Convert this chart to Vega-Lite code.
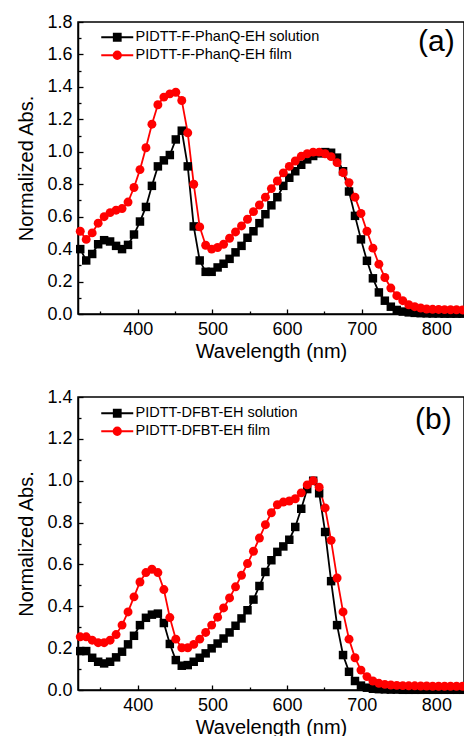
{
  "$schema": "https://vega.github.io/schema/vega-lite/v6.json",
  "padding": {"left": 16, "top": 12, "right": 0, "bottom": 0},
  "config": {
    "font": "Liberation Sans",
    "view": {"stroke": "#000000", "strokeWidth": 1.5},
    "axis": {"grid": false, "domainColor": "#000000", "domainWidth": 1.5, "tickColor": "#000000", "tickWidth": 1.3, "labelColor": "#000000", "titleColor": "#000000", "labelFont": "Liberation Sans", "titleFont": "Liberation Sans", "labelFontSize": 18, "titleFontSize": 20, "titleFontWeight": "normal"},
    "legend": {"labelFont": "Liberation Sans", "labelFontSize": 14.5, "labelColor": "#000000", "labelLimit": 0},
    "concat": {"spacing": 25}
  },
  "datasets": {
    "a": [
      {"w":323,"solution":0.40,"film":0.51},{"w":331,"solution":0.33,"film":0.46},{"w":339,"solution":0.37,"film":0.50},{"w":347,"solution":0.43,"film":0.56},{"w":355,"solution":0.455,"film":0.60},
      {"w":363,"solution":0.447,"film":0.625},{"w":371,"solution":0.42,"film":0.64},{"w":379,"solution":0.40,"film":0.65},{"w":387,"solution":0.426,"film":0.69},{"w":395,"solution":0.49,"film":0.78},
      {"w":403,"solution":0.57,"film":0.89},{"w":411,"solution":0.66,"film":1.025},{"w":419,"solution":0.79,"film":1.17},{"w":427,"solution":0.91,"film":1.29},{"w":435,"solution":0.947,"film":1.337},
      {"w":443,"solution":0.98,"film":1.357},{"w":451,"solution":1.076,"film":1.367},{"w":459,"solution":1.13,"film":1.316},{"w":467,"solution":0.91,"film":1.117},{"w":475,"solution":0.54,"film":0.80},
      {"w":483,"solution":0.33,"film":0.537},{"w":491,"solution":0.26,"film":0.424},{"w":499,"solution":0.26,"film":0.40},{"w":507,"solution":0.287,"film":0.41},{"w":515,"solution":0.31,"film":0.43},
      {"w":523,"solution":0.34,"film":0.467},{"w":531,"solution":0.38,"film":0.506},{"w":539,"solution":0.42,"film":0.543},{"w":547,"solution":0.47,"film":0.584},{"w":555,"solution":0.51,"film":0.631},
      {"w":563,"solution":0.56,"film":0.672},{"w":571,"solution":0.615,"film":0.72},{"w":579,"solution":0.67,"film":0.773},{"w":587,"solution":0.72,"film":0.82},{"w":595,"solution":0.79,"film":0.87},
      {"w":603,"solution":0.84,"film":0.91},{"w":611,"solution":0.88,"film":0.943},{"w":619,"solution":0.92,"film":0.972},{"w":627,"solution":0.953,"film":0.988},{"w":635,"solution":0.974,"film":0.998},
      {"w":643,"solution":0.99,"film":0.998},{"w":651,"solution":0.998,"film":0.988},{"w":659,"solution":0.994,"film":0.97},{"w":667,"solution":0.964,"film":0.933},{"w":675,"solution":0.88,"film":0.871},
      {"w":683,"solution":0.755,"film":0.81},{"w":691,"solution":0.605,"film":0.72},{"w":699,"solution":0.46,"film":0.62},{"w":707,"solution":0.328,"film":0.51},{"w":715,"solution":0.22,"film":0.406},
      {"w":723,"solution":0.133,"film":0.307},{"w":731,"solution":0.082,"film":0.225},{"w":739,"solution":0.045,"film":0.16},{"w":747,"solution":0.025,"film":0.113},{"w":755,"solution":0.015,"film":0.082},
      {"w":763,"solution":0.01,"film":0.057},{"w":771,"solution":0.007,"film":0.045},{"w":779,"solution":0.005,"film":0.037},{"w":787,"solution":0.004,"film":0.031},{"w":795,"solution":0.003,"film":0.029},
      {"w":803,"solution":0.003,"film":0.028},{"w":811,"solution":0.002,"film":0.027},{"w":819,"solution":0.002,"film":0.026},{"w":827,"solution":0.002,"film":0.026},{"w":835,"solution":0.002,"film":0.025}
    ],
    "b": [
      {"w":323,"solution":0.186,"film":0.254},{"w":331,"solution":0.186,"film":0.254},{"w":339,"solution":0.154,"film":0.238},{"w":347,"solution":0.135,"film":0.226},{"w":355,"solution":0.127,"film":0.226},
      {"w":363,"solution":0.135,"film":0.238},{"w":371,"solution":0.156,"film":0.265},{"w":379,"solution":0.183,"film":0.31},{"w":387,"solution":0.218,"film":0.373},{"w":395,"solution":0.259,"film":0.445},
      {"w":403,"solution":0.31,"film":0.516},{"w":411,"solution":0.345,"film":0.561},{"w":419,"solution":0.36,"film":0.577},{"w":427,"solution":0.365,"film":0.561},{"w":435,"solution":0.32,"film":0.48},
      {"w":443,"solution":0.22,"film":0.346},{"w":451,"solution":0.143,"film":0.243},{"w":459,"solution":0.116,"film":0.202},{"w":467,"solution":0.119,"film":0.202},{"w":475,"solution":0.135,"film":0.218},
      {"w":483,"solution":0.154,"film":0.243},{"w":491,"solution":0.175,"film":0.275},{"w":499,"solution":0.199,"film":0.31},{"w":507,"solution":0.222,"film":0.348},{"w":515,"solution":0.246,"film":0.392},
      {"w":523,"solution":0.275,"film":0.44},{"w":531,"solution":0.307,"film":0.493},{"w":539,"solution":0.342,"film":0.548},{"w":547,"solution":0.381,"film":0.604},{"w":555,"solution":0.432,"film":0.663},
      {"w":563,"solution":0.497,"film":0.726},{"w":571,"solution":0.564,"film":0.79},{"w":579,"solution":0.62,"film":0.847},{"w":587,"solution":0.66,"film":0.885},{"w":595,"solution":0.686,"film":0.898},
      {"w":603,"solution":0.718,"film":0.903},{"w":611,"solution":0.779,"film":0.914},{"w":619,"solution":0.866,"film":0.942},{"w":627,"solution":0.96,"film":0.98},{"w":635,"solution":1.0,"film":1.0},
      {"w":643,"solution":0.94,"film":0.969},{"w":651,"solution":0.755,"film":0.87},{"w":659,"solution":0.52,"film":0.715},{"w":667,"solution":0.31,"film":0.535},{"w":675,"solution":0.167,"film":0.373},
      {"w":683,"solution":0.087,"film":0.243},{"w":691,"solution":0.043,"film":0.154},{"w":699,"solution":0.021,"film":0.095},{"w":707,"solution":0.011,"film":0.064},{"w":715,"solution":0.006,"film":0.043},
      {"w":723,"solution":0.004,"film":0.032},{"w":731,"solution":0.003,"film":0.027},{"w":739,"solution":0.002,"film":0.024},{"w":747,"solution":0.002,"film":0.022},{"w":755,"solution":0.001,"film":0.021},
      {"w":763,"solution":0.001,"film":0.02},{"w":771,"solution":0.001,"film":0.02},{"w":779,"solution":0.001,"film":0.019},{"w":787,"solution":0.001,"film":0.019},{"w":795,"solution":0.001,"film":0.018},
      {"w":803,"solution":0.001,"film":0.018},{"w":811,"solution":0.001,"film":0.018},{"w":819,"solution":0.001,"film":0.018},{"w":827,"solution":0.001,"film":0.018},{"w":835,"solution":0.001,"film":0.018}
    ]
  },
  "resolve": {"scale": {"color": "independent"}, "legend": {"color": "independent"}},
  "vconcat": [
    {
      "width": 386, "height": 292,
      "data": {"name": "a"},
      "transform": [{"fold": ["solution", "film"], "as": ["series", "abs"]}],
      "layer": [
        {
          "mark": {"type": "line", "strokeWidth": 1.8},
          "encoding": {
            "x": {"field": "w", "type": "quantitative", "scale": {"domain": [320, 837], "nice": false, "zero": false},
                  "axis": {"orient": "bottom", "values": [400, 500, 600, 700, 800], "tickSize": -5, "labelPadding": 11, "title": "Wavelength (nm)", "titlePadding": 3}},
            "y": {"field": "abs", "type": "quantitative", "scale": {"domain": [0, 1.8], "nice": false},
                  "axis": {"orient": "left", "values": [0, 0.2, 0.4, 0.6, 0.8, 1.0, 1.2, 1.4, 1.6, 1.8], "format": ".1f", "tickSize": -5, "labelPadding": 11, "title": "Normalized Abs.", "titlePadding": 10}},
            "color": {"field": "series", "type": "nominal", "scale": {"domain": ["solution", "film"], "range": ["#000000", "#ff0000"]},
                      "legend": {"title": null, "orient": "none", "legendX": 32, "legendY": 8, "labelExpr": "'PIDTT-F-PhanQ-EH ' + datum.label", "labelOffset": 11, "rowPadding": 2,
                                 "encode": {"symbols": {"update": {"shape": {"signal": "datum.value == 'film' ? 'M-3.2,0H3.2M0.75,0A0.75,0.75 0 1,1 -0.75,0A0.75,0.75 0 1,1 0.75,0Z' : 'M-3.2,0H3.2M-0.7,-0.7H0.7V0.7H-0.7Z'"}, "fill": {"signal": "datum.value == 'film' ? '#ff0000' : '#000000'"}, "stroke": {"signal": "datum.value == 'film' ? '#ff0000' : '#000000'"}, "size": {"value": 100}, "strokeWidth": {"value": 1.8}, "opacity": {"value": 1}}}}}}
          }
        },
        {
          "transform": [{"filter": "datum.series == 'solution'"}],
          "mark": {"type": "point", "shape": "square", "filled": true, "opacity": 1, "size": 72, "color": "#000000"},
          "encoding": {
            "x": {"field": "w", "type": "quantitative", "axis": {"orient": "bottom", "values": [350, 450, 550, 650, 750], "tickSize": -3, "labels": false, "domain": false, "title": null}},
            "y": {"field": "abs", "type": "quantitative", "axis": {"orient": "left", "values": [0.1, 0.3, 0.5, 0.7, 0.9, 1.1, 1.3, 1.5, 1.7], "tickSize": -3, "labels": false, "domain": false, "title": null}}
          }
        },
        {
          "transform": [{"filter": "datum.series == 'film'"}],
          "mark": {"type": "point", "shape": "circle", "filled": true, "opacity": 1, "size": 80, "color": "#ff0000"},
          "encoding": {
            "x": {"field": "w", "type": "quantitative", "axis": null},
            "y": {"field": "abs", "type": "quantitative", "axis": null}
          }
        },
        {
          "data": {"values": [{}]},
          "mark": {"type": "text", "fontSize": 30, "font": "Liberation Sans", "align": "center", "baseline": "middle"},
          "encoding": {
            "x": {"datum": 800, "type": "quantitative", "axis": null},
            "y": {"datum": 1.675, "type": "quantitative", "axis": null},
            "text": {"value": "(a)"}
          }
        }
      ],
      "resolve": {"axis": {"x": "independent", "y": "independent"}}
    },
    {
      "width": 386, "height": 293,
      "data": {"name": "b"},
      "transform": [{"fold": ["solution", "film"], "as": ["series", "abs"]}],
      "layer": [
        {
          "mark": {"type": "line", "strokeWidth": 1.8},
          "encoding": {
            "x": {"field": "w", "type": "quantitative", "scale": {"domain": [320, 837], "nice": false, "zero": false},
                  "axis": {"orient": "bottom", "values": [400, 500, 600, 700, 800], "tickSize": -5, "labelPadding": 11, "title": "Wavelength (nm)", "titlePadding": 3}},
            "y": {"field": "abs", "type": "quantitative", "scale": {"domain": [0, 1.4], "nice": false},
                  "axis": {"orient": "left", "values": [0, 0.2, 0.4, 0.6, 0.8, 1.0, 1.2, 1.4], "format": ".1f", "tickSize": -5, "labelPadding": 11, "title": "Normalized Abs.", "titlePadding": 10}},
            "color": {"field": "series", "type": "nominal", "scale": {"domain": ["solution", "film"], "range": ["#000000", "#ff0000"]},
                      "legend": {"title": null, "orient": "none", "legendX": 32, "legendY": 9, "labelExpr": "'PIDTT-DFBT-EH ' + datum.label", "labelOffset": 11, "rowPadding": 2,
                                 "encode": {"symbols": {"update": {"shape": {"signal": "datum.value == 'film' ? 'M-3.2,0H3.2M0.75,0A0.75,0.75 0 1,1 -0.75,0A0.75,0.75 0 1,1 0.75,0Z' : 'M-3.2,0H3.2M-0.7,-0.7H0.7V0.7H-0.7Z'"}, "fill": {"signal": "datum.value == 'film' ? '#ff0000' : '#000000'"}, "stroke": {"signal": "datum.value == 'film' ? '#ff0000' : '#000000'"}, "size": {"value": 100}, "strokeWidth": {"value": 1.8}, "opacity": {"value": 1}}}}}}
          }
        },
        {
          "transform": [{"filter": "datum.series == 'solution'"}],
          "mark": {"type": "point", "shape": "square", "filled": true, "opacity": 1, "size": 72, "color": "#000000"},
          "encoding": {
            "x": {"field": "w", "type": "quantitative", "axis": {"orient": "bottom", "values": [350, 450, 550, 650, 750], "tickSize": -3, "labels": false, "domain": false, "title": null}},
            "y": {"field": "abs", "type": "quantitative", "axis": {"orient": "left", "values": [0.1, 0.3, 0.5, 0.7, 0.9, 1.1, 1.3], "tickSize": -3, "labels": false, "domain": false, "title": null}}
          }
        },
        {
          "transform": [{"filter": "datum.series == 'film'"}],
          "mark": {"type": "point", "shape": "circle", "filled": true, "opacity": 1, "size": 80, "color": "#ff0000"},
          "encoding": {
            "x": {"field": "w", "type": "quantitative", "axis": null},
            "y": {"field": "abs", "type": "quantitative", "axis": null}
          }
        },
        {
          "data": {"values": [{}]},
          "mark": {"type": "text", "fontSize": 30, "font": "Liberation Sans", "align": "center", "baseline": "middle"},
          "encoding": {
            "x": {"datum": 796, "type": "quantitative", "axis": null},
            "y": {"datum": 1.29, "type": "quantitative", "axis": null},
            "text": {"value": "(b)"}
          }
        }
      ],
      "resolve": {"axis": {"x": "independent", "y": "independent"}}
    }
  ]
}
